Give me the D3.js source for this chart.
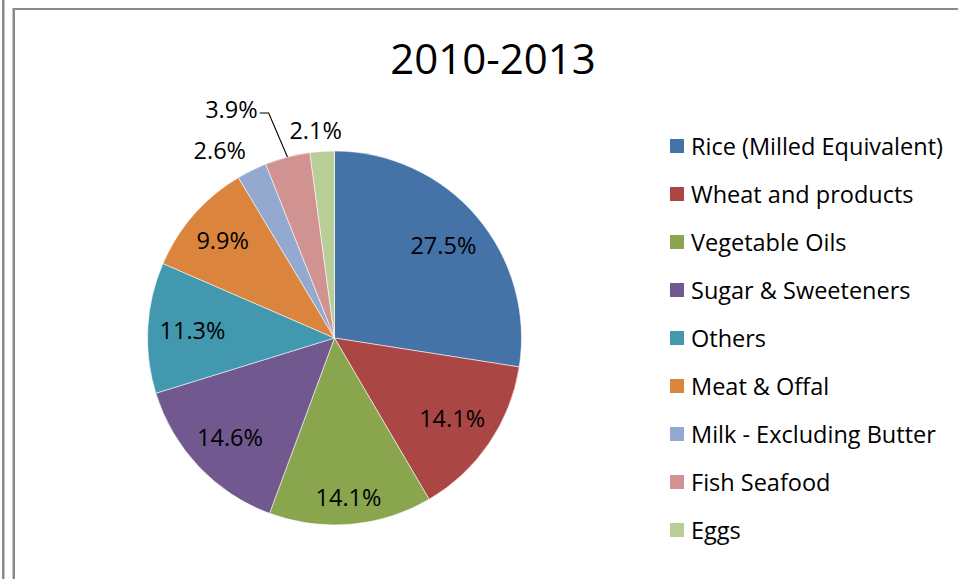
<!DOCTYPE html>
<html>
<head>
<meta charset="utf-8">
<script src="https://cdn.jsdelivr.net/npm/d3@7/dist/d3.min.js"></script>
<style>
  html, body { margin: 0; padding: 0; background: #fff; }
  svg { display: block; }
  text { font-family: "Open Sans", Lato, "Liberation Sans", sans-serif; fill: #000; }
</style>
</head>
<body>
<svg id="chart" width="958" height="579"></svg>
<script>
// Food supply shares, 2010-2013
const title = "2010-2013";
const categories = [
  "Rice (Milled Equivalent)",
  "Wheat and products",
  "Vegetable Oils",
  "Sugar & Sweeteners",
  "Others",
  "Meat & Offal",
  "Milk - Excluding Butter",
  "Fish Seafood",
  "Eggs"
];
const shares = [27.5, 14.1, 14.1, 14.6, 11.3, 9.9, 2.6, 3.9, 2.1];
const colors = ["#4572A7", "#AA4643", "#89A54E", "#71588F", "#4198AF",
                "#DB843D", "#93A9CF", "#D19392", "#B9CD96"];

// layout
const W = 958, H = 579;
const cx = 334.5, cy = 338, R = 187;
const labelSize = 23.5;
const insideGap = 11;     // farthest label corner sits this far inside the rim
const outsideGap = 13;    // outside labels are anchored this far beyond the rim
const smallSlice = 5;     // slices below this share get outside labels
const calloutNudge = { "Fish Seafood": [-31, -27] };

const svg = d3.select("#chart");

// outer frame
const frame = svg.append("g").attr("class", "frame");
frame.append("rect").attr("x", 2).attr("y", 0).attr("width", 2).attr("height", H).attr("fill", "#8a8a8a");
frame.append("rect").attr("x", 4).attr("y", 0).attr("width", 1).attr("height", H).attr("fill", "#c4c4c4");
frame.append("rect").attr("x", 12).attr("y", 8).attr("width", 1).attr("height", H - 8).attr("fill", "#c4c4c4");
frame.append("rect").attr("x", 13).attr("y", 8).attr("width", 2).attr("height", H - 8).attr("fill", "#8a8a8a");
frame.append("rect").attr("x", 13).attr("y", 8).attr("width", W - 13).attr("height", 2).attr("fill", "#8a8a8a");

// title
svg.append("text")
  .attr("x", 493).attr("y", 74)
  .attr("text-anchor", "middle")
  .style("font-size", "42px")
  .text(title);

// pie
const pie = d3.pie().sort(null).value(d => d.v);
const arcs = pie(categories.map((c, i) => ({ c, v: shares[i], col: colors[i] })));
const arc = d3.arc().innerRadius(0).outerRadius(R);

const g = svg.append("g").attr("transform", `translate(${cx},${cy})`);
g.selectAll("path.slice").data(arcs).join("path")
  .attr("class", "slice")
  .attr("d", arc)
  .attr("fill", d => d.data.col)
  .attr("stroke", "#ffffff")
  .attr("stroke-width", 0.7)
  .attr("stroke-opacity", 0.8);

// data labels
const fmt = v => v.toFixed(1) + "%";
const labels = g.selectAll("text.lbl").data(arcs).join("text")
  .attr("class", "lbl")
  .attr("text-anchor", "middle")
  .attr("dominant-baseline", "central")
  .style("font-size", labelSize + "px")
  .text(d => fmt(d.data.v));

function bisect(f, target, lo, hi) {
  for (let k = 0; k < 60; k++) {
    const m = (lo + hi) / 2;
    if (f(m) < target) lo = m; else hi = m;
  }
  return (lo + hi) / 2;
}
const clamp1 = v => Math.max(-1, Math.min(1, v));

labels.each(function (d) {
  const bb = this.getBBox();
  const hw = bb.width / 2;
  const a = (d.startAngle + d.endAngle) / 2;
  const s = Math.sin(a), c = Math.cos(a);
  let x, y;
  if (d.data.v >= smallSlice) {
    const hh = 11;
    const far = t => Math.hypot(Math.abs(t * s) + hw, Math.abs(t * c) + hh);
    const dist = bisect(far, R - insideGap, 0, R);
    x = dist * s; y = -dist * c;
  } else {
    // anchor a side/corner of the label box on the ray through the slice middle
    const hh = 8.5;
    const px = (R + outsideGap) * s, py = -(R + outsideGap) * c;
    x = px + hw * clamp1(3.3 * s);
    y = py - hh * clamp1(3.3 * c);
  }
  const nudge = calloutNudge[d.data.c];
  if (nudge) {
    x += nudge[0]; y += nudge[1];
    const ex = R * s, ey = -R * c;
    const x0 = x + hw + 2, yl = y + 4;
    g.append("polyline")
      .attr("points", [[x0, yl], [x0 + 9, yl], [ex, ey]].map(p => p.join(",")).join(" "))
      .attr("fill", "none")
      .attr("stroke", "#000")
      .attr("stroke-width", 1.1);
  }
  d3.select(this).attr("x", x).attr("y", y);
});

// legend
const legend = svg.append("g").attr("transform", "translate(670,146)");
const rowStep = 48;
const rows = legend.selectAll("g").data(categories).join("g")
  .attr("transform", (d, i) => `translate(0,${i * rowStep})`);
rows.append("rect")
  .attr("x", 0).attr("y", -7).attr("width", 14).attr("height", 14)
  .attr("fill", (d, i) => colors[i]);
rows.append("text")
  .attr("x", 21).attr("y", 0)
  .attr("dominant-baseline", "central")
  .style("font-size", "23.5px")
  .text(d => d);
</script>
</body>
</html>
